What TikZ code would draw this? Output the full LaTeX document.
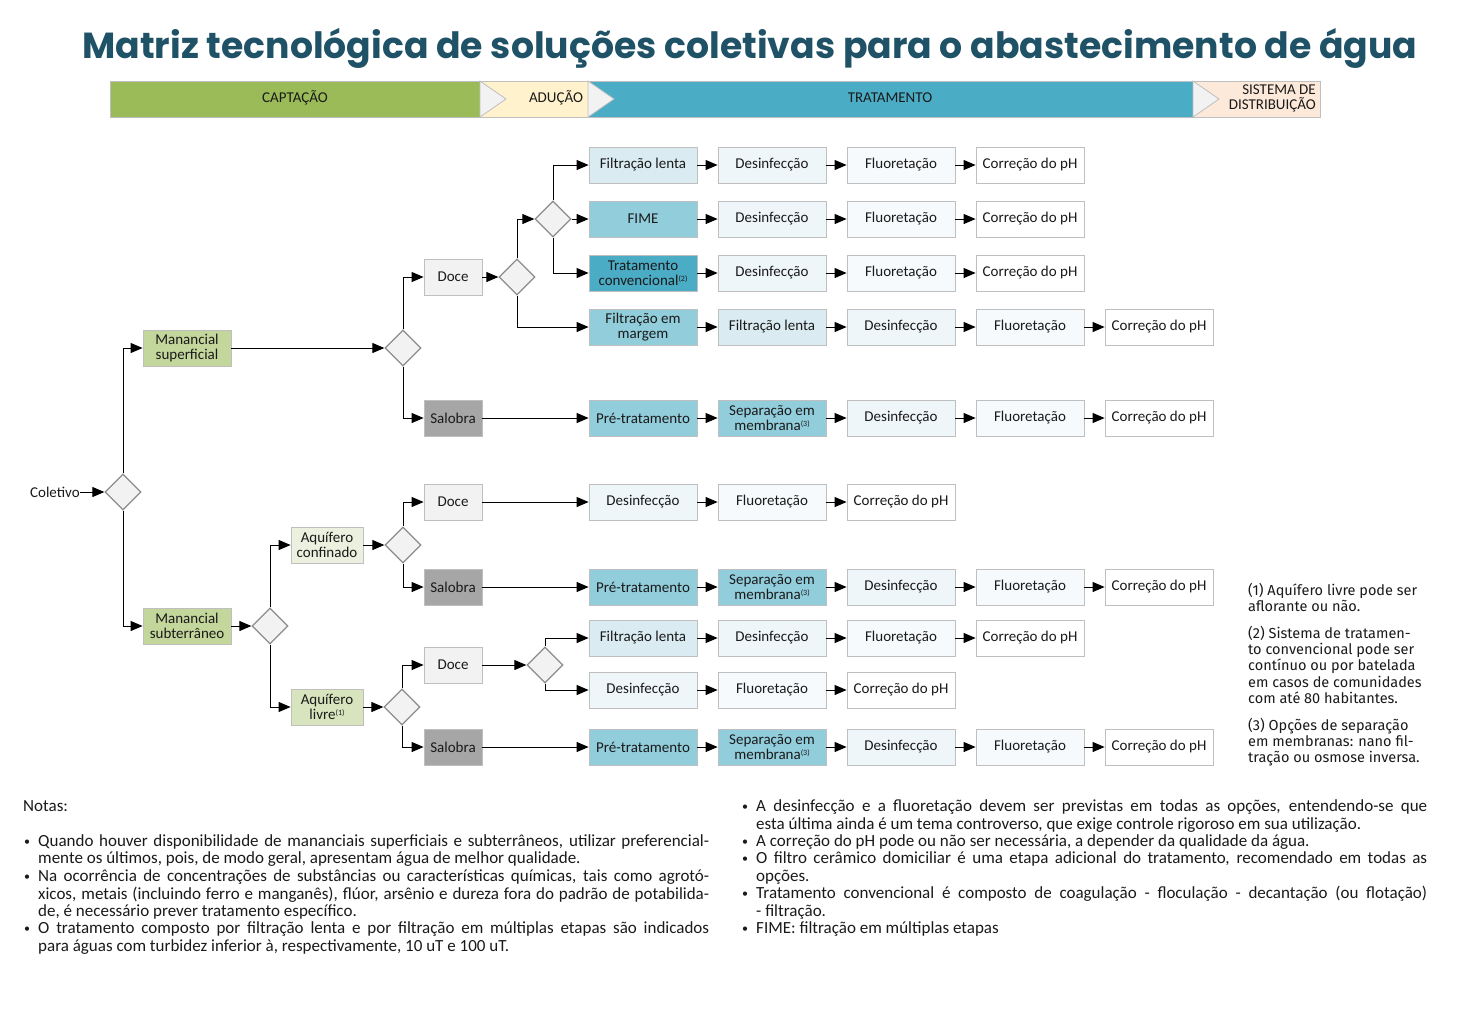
\documentclass[tikz,border=0pt]{standalone}
\usepackage{fontspec}
\usepackage{graphicx}
\setmainfont{Carlito}
\newfontfamily\titlefont{Poppins}
\newfontfamily\fnfont{Fira Sans}
\usetikzlibrary{shapes.geometric,arrows.meta}
\definecolor{titlec}{HTML}{1F5266}
\definecolor{capt}{HTML}{9BBB59}
\definecolor{adu}{HTML}{FFF2CC}
\definecolor{trat}{HTML}{4BACC6}
\definecolor{dist}{HTML}{FDE9D9}
\definecolor{chev}{HTML}{F2F2F2}
\definecolor{bord}{HTML}{BFBFBF}
\definecolor{flent}{HTML}{DAEBF1}
\definecolor{mid}{HTML}{92CDDC}
\definecolor{conv}{HTML}{4BACC6}
\definecolor{desf}{HTML}{EEF6F9}
\definecolor{fluo}{HTML}{F7FAFC}
\definecolor{docec}{HTML}{F2F2F2}
\definecolor{saloc}{HTML}{A6A6A6}
\definecolor{manan}{HTML}{C3D69B}
\definecolor{confc}{HTML}{EBF1DE}
\definecolor{livrec}{HTML}{D7E4BD}
\definecolor{txt}{HTML}{1A1A1A}
\newcommand\supn[1]{\raisebox{4pt}{\fontsize{8}{8}\selectfont(#1)}}
\newcommand\jl[1]{\sbox0{#1}\ifdim\wd0>671pt\resizebox{671pt}{\height}{\usebox0}\else\makebox[671pt][s]{#1}\fi}
\newcommand\bul{\raisebox{1pt}{\fontsize{12}{12}\selectfont•}}
\begin{document}
\begin{tikzpicture}[x=1pt,y=-1pt,
 box/.style={draw=bord, line width=0.8pt, minimum width=108pt, minimum height=36pt, inner sep=1pt, align=center, font=\fontsize{15}{14.5}\selectfont, text=txt},
 small/.style={box, minimum width=58pt},
 dia/.style={diamond, draw=gray!90, fill=chev, line width=1.3pt, minimum width=36pt, minimum height=36pt, inner sep=0pt},
 arr/.style={-{Triangle[length=12pt,width=10pt]}, line width=1pt},
 note/.style={anchor=base west, inner sep=0pt, font=\fontsize{17}{17.5}\selectfont, text=txt},
 fn/.style={anchor=base west, inner sep=0pt, font=\fnfont\fontsize{14.5}{16}\selectfont, text=txt},
 hdr/.style={inner sep=0pt, font=\fontsize{15}{15}\selectfont, text=txt}
]
\useasboundingbox (0,0) rectangle (1462,1026);
\fill[white] (0,0) rectangle (1462,1026);

% title
\node[anchor=base, inner sep=0pt] (title) at (750,58) {\resizebox{1335pt}{!}{\titlefont\bfseries\color{titlec}Matriz tecnológica de soluções coletivas para o abastecimento de água}};

% header bar
\fill[capt] (110,81) rectangle (480,117);
\fill[adu] (480,81) rectangle (588,117);
\fill[trat] (588,81) rectangle (1193,117);
\fill[dist] (1193,81) rectangle (1320,117);
\filldraw[fill=chev, draw=bord, line width=0.8pt] (480,81) -- (506,99) -- (480,117) -- cycle;
\filldraw[fill=chev, draw=bord, line width=0.8pt] (588,81) -- (614,99) -- (588,117) -- cycle;
\filldraw[fill=chev, draw=bord, line width=0.8pt] (1193,81) -- (1219,99) -- (1193,117) -- cycle;
\draw[bord, line width=0.8pt] (110,81) rectangle (1320,117);
\node[hdr] (hcapt) at (295,98) {CAPTAÇÃO};
\node[hdr] (hadu) at (556,98) {ADUÇÃO};
\node[hdr] (htrat) at (890,98) {TRATAMENTO};
\node[hdr, anchor=east, align=right] (hdist) at (1316,98) {SISTEMA DE\\DISTRIBUIÇÃO};

% left tree
\node[inner sep=0pt, font=\fontsize{15}{15}\selectfont, text=txt, anchor=east] (colet) at (80,492) {Coletivo};
\node[dia] (d0) at (123,492) {};
\node[box, fill=manan, minimum width=88pt] (msup) at (187,348) {Manancial\\superficial};
\node[box, fill=manan, minimum width=88pt] (msub) at (187,626) {Manancial\\subterrâneo};
\node[dia] (dsup) at (403,348) {};
\node[dia] (dsub) at (270,626) {};
\node[box, fill=confc, minimum width=72pt] (conf) at (327,545) {Aquífero\\confinado};
\node[box, fill=livrec, minimum width=72pt] (livre) at (327,707) {Aquífero\\livre\supn{1}};
\node[dia] (dconf) at (403,545) {};
\node[dia] (dlivre) at (402,707) {};
\node[small, fill=docec] (doce1) at (453,277) {Doce};
\node[small, fill=saloc] (salo1) at (453,418) {Salobra};
\node[small, fill=docec] (doce2) at (453,502) {Doce};
\node[small, fill=saloc] (salo2) at (453,587) {Salobra};
\node[small, fill=docec] (doce3) at (453,665) {Doce};
\node[small, fill=saloc] (salo3) at (453,747) {Salobra};
\node[dia] (ddoce) at (517,277) {};
\node[dia] (dfilt) at (553,219) {};
\node[dia] (dld) at (545,665) {};

\draw[arr] (colet) -- (d0);
\draw[arr] (d0.north) |- (msup.west);
\draw[arr] (d0.south) |- (msub.west);
\draw[arr] (msup) -- (dsup);
\draw[arr] (msub) -- (dsub);
\draw[arr] (dsup.north) |- (doce1.west);
\draw[arr] (dsup.south) |- (salo1.west);
\draw[arr] (dsub.north) |- (conf.west);
\draw[arr] (dsub.south) |- (livre.west);
\draw[arr] (conf) -- (dconf);
\draw[arr] (livre) -- (dlivre);
\draw[arr] (dconf.north) |- (doce2.west);
\draw[arr] (dconf.south) |- (salo2.west);
\draw[arr] (dlivre.north) |- (doce3.west);
\draw[arr] (dlivre.south) |- (salo3.west);
\draw[arr] (doce1) -- (ddoce);
\draw[arr] (ddoce.north) |- (dfilt.west);
\draw[arr] (doce3) -- (dld);

% row 1
\node[box, fill=flent] (n1a) at (643,165) {Filtração lenta};
\node[box, fill=desf] (n1b) at (772,165) {Desinfecção};
\node[box, fill=fluo] (n1c) at (901,165) {Fluoretação};
\node[box, fill=white] (n1d) at (1030,165) {Correção do pH};
% row 2
\node[box, fill=mid] (n2a) at (643,219) {FIME};
\node[box, fill=desf] (n2b) at (772,219) {Desinfecção};
\node[box, fill=fluo] (n2c) at (901,219) {Fluoretação};
\node[box, fill=white] (n2d) at (1030,219) {Correção do pH};
% row 3
\node[box, fill=conv] (n3a) at (643,273) {Tratamento\\convencional\supn{2}};
\node[box, fill=desf] (n3b) at (772,273) {Desinfecção};
\node[box, fill=fluo] (n3c) at (901,273) {Fluoretação};
\node[box, fill=white] (n3d) at (1030,273) {Correção do pH};
% row 4
\node[box, fill=mid] (n4a) at (643,327) {Filtração em\\margem};
\node[box, fill=flent] (n4b) at (772,327) {Filtração lenta};
\node[box, fill=desf] (n4c) at (901,327) {Desinfecção};
\node[box, fill=fluo] (n4d) at (1030,327) {Fluoretação};
\node[box, fill=white] (n4e) at (1159,327) {Correção do pH};
% row 5
\node[box, fill=mid] (n5a) at (643,418) {Pré-tratamento};
\node[box, fill=mid] (n5b) at (772,418) {Separação em\\membrana\supn{3}};
\node[box, fill=desf] (n5c) at (901,418) {Desinfecção};
\node[box, fill=fluo] (n5d) at (1030,418) {Fluoretação};
\node[box, fill=white] (n5e) at (1159,418) {Correção do pH};
% row 6
\node[box, fill=desf] (n6a) at (643,502) {Desinfecção};
\node[box, fill=fluo] (n6b) at (772,502) {Fluoretação};
\node[box, fill=white] (n6c) at (901,502) {Correção do pH};
% row 7
\node[box, fill=mid] (n7a) at (643,587) {Pré-tratamento};
\node[box, fill=mid] (n7b) at (772,587) {Separação em\\membrana\supn{3}};
\node[box, fill=desf] (n7c) at (901,587) {Desinfecção};
\node[box, fill=fluo] (n7d) at (1030,587) {Fluoretação};
\node[box, fill=white] (n7e) at (1159,587) {Correção do pH};
% row 8
\node[box, fill=flent] (n8a) at (643,638) {Filtração lenta};
\node[box, fill=desf] (n8b) at (772,638) {Desinfecção};
\node[box, fill=fluo] (n8c) at (901,638) {Fluoretação};
\node[box, fill=white] (n8d) at (1030,638) {Correção do pH};
% row 9
\node[box, fill=desf] (n9a) at (643,690) {Desinfecção};
\node[box, fill=fluo] (n9b) at (772,690) {Fluoretação};
\node[box, fill=white] (n9c) at (901,690) {Correção do pH};
% row 10
\node[box, fill=mid] (n10a) at (643,747) {Pré-tratamento};
\node[box, fill=mid] (n10b) at (772,747) {Separação em\\membrana\supn{3}};
\node[box, fill=desf] (n10c) at (901,747) {Desinfecção};
\node[box, fill=fluo] (n10d) at (1030,747) {Fluoretação};
\node[box, fill=white] (n10e) at (1159,747) {Correção do pH};

% branch connectors
\draw[arr] (dfilt.north) |- (n1a.west);
\draw[arr] (dfilt) -- (n2a);
\draw[arr] (dfilt.south) |- (n3a.west);
\draw[arr] (ddoce.south) |- (n4a.west);
\draw[arr] (salo1) -- (n5a);
\draw[arr] (doce2) -- (n6a);
\draw[arr] (salo2) -- (n7a);
\draw[arr] (dld.north) |- (n8a.west);
\draw[arr] (dld.south) |- (n9a.west);
\draw[arr] (salo3) -- (n10a);

% chains
\draw[arr] (n1a) -- (n1b); \draw[arr] (n1b) -- (n1c); \draw[arr] (n1c) -- (n1d);
\draw[arr] (n2a) -- (n2b); \draw[arr] (n2b) -- (n2c); \draw[arr] (n2c) -- (n2d);
\draw[arr] (n3a) -- (n3b); \draw[arr] (n3b) -- (n3c); \draw[arr] (n3c) -- (n3d);
\draw[arr] (n4a) -- (n4b); \draw[arr] (n4b) -- (n4c); \draw[arr] (n4c) -- (n4d); \draw[arr] (n4d) -- (n4e);
\draw[arr] (n5a) -- (n5b); \draw[arr] (n5b) -- (n5c); \draw[arr] (n5c) -- (n5d); \draw[arr] (n5d) -- (n5e);
\draw[arr] (n6a) -- (n6b); \draw[arr] (n6b) -- (n6c);
\draw[arr] (n7a) -- (n7b); \draw[arr] (n7b) -- (n7c); \draw[arr] (n7c) -- (n7d); \draw[arr] (n7d) -- (n7e);
\draw[arr] (n8a) -- (n8b); \draw[arr] (n8b) -- (n8c); \draw[arr] (n8c) -- (n8d);
\draw[arr] (n9a) -- (n9b); \draw[arr] (n9b) -- (n9c);
\draw[arr] (n10a) -- (n10b); \draw[arr] (n10b) -- (n10c); \draw[arr] (n10c) -- (n10d); \draw[arr] (n10d) -- (n10e);

% footnotes
\node[fn] (f1) at (1248,595.5) {(1) Aquífero livre pode ser};
\node[fn] (f2) at (1248,611.5) {aflorante ou não.};
\node[fn] (f3) at (1248,638.5) {(2) Sistema de tratamen-};
\node[fn] (f4) at (1248,654.5) {to convencional pode ser};
\node[fn] (f5) at (1248,670.5) {contínuo ou por batelada};
\node[fn] (f6) at (1248,687.5) {em casos de comunidades};
\node[fn] (f7) at (1248,703.5) {com até 80 habitantes.};
\node[fn] (f8) at (1248,730.5) {(3) Opções de separação};
\node[fn] (f9) at (1248,746.5) {em membranas: nano fil-};
\node[fn] (f10) at (1248,762.5) {tração ou osmose inversa.};

% notes left
\node[note] (notas) at (23,811) {Notas:};
\node[note] (b1) at (24,846) {\bul};
\node[note] (b2) at (24,881) {\bul};
\node[note] (b3) at (24,933) {\bul};
\node[note] (l1) at (38,846) {\jl{Quando houver disponibilidade de mananciais superficiais e subterrâneos, utilizar preferencial-}};
\node[note] (l2) at (38,863) {mente os últimos, pois, de modo geral, apresentam água de melhor qualidade.};
\node[note] (l3) at (38,881) {\jl{Na ocorrência de concentrações de substâncias ou características químicas, tais como agrotó-}};
\node[note] (l4) at (38,899) {\jl{xicos, metais (incluindo ferro e manganês), flúor, arsênio e dureza fora do padrão de potabilida-}};
\node[note] (l5) at (38,916) {de, é necessário prever tratamento específico.};
\node[note] (l6) at (38,933) {\jl{O tratamento composto por filtração lenta e por filtração em múltiplas etapas são indicados}};
\node[note] (l7) at (38,951) {para águas com turbidez inferior à, respectivamente, 10 uT e 100 uT.};

% notes right
\node[note] (rb1) at (742,811) {\bul};
\node[note] (rb2) at (742,846) {\bul};
\node[note] (rb3) at (742,863) {\bul};
\node[note] (rb4) at (742,898) {\bul};
\node[note] (rb5) at (742,933) {\bul};
\node[note] (r1) at (756,811) {\jl{A desinfecção e a fluoretação devem ser previstas em todas as opções, entendendo-se que}};
\node[note] (r2) at (756,829) {esta última ainda é um tema controverso, que exige controle rigoroso em sua utilização.};
\node[note] (r3) at (756,846) {A correção do pH pode ou não ser necessária, a depender da qualidade da água.};
\node[note] (r4) at (756,863) {\jl{O filtro cerâmico domiciliar é uma etapa adicional do tratamento, recomendado em todas as}};
\node[note] (r5) at (756,881) {opções.};
\node[note] (r6) at (756,898) {\jl{Tratamento convencional é composto de coagulação - floculação - decantação (ou flotação)}};
\node[note] (r7) at (756,916) {- filtração.};
\node[note] (r8) at (756,933) {FIME: filtração em múltiplas etapas};
\end{tikzpicture}
\end{document}
